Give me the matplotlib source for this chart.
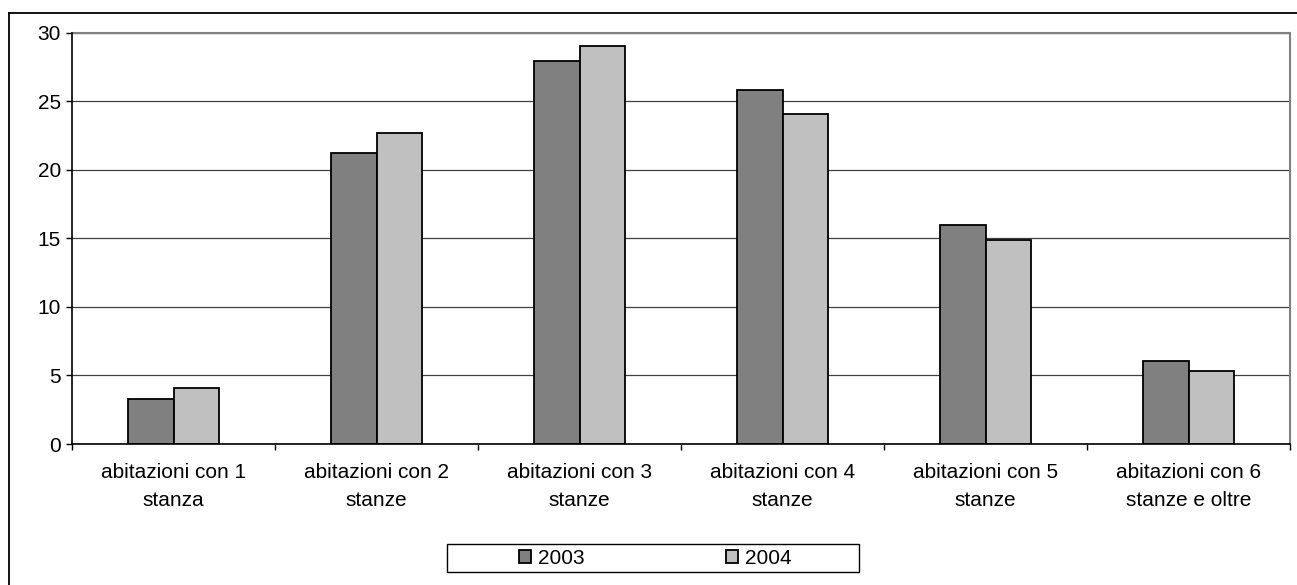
import matplotlib
matplotlib.use("Agg")
import matplotlib.pyplot as plt
from matplotlib.lines import Line2D
from matplotlib.patches import Rectangle
import numpy as np

CATEGORIES = [
    "abitazioni con 1\nstanza",
    "abitazioni con 2\nstanze",
    "abitazioni con 3\nstanze",
    "abitazioni con 4\nstanze",
    "abitazioni con 5\nstanze",
    "abitazioni con 6\nstanze e oltre",
]
VALUES_2003 = [3.25, 21.2, 27.9, 25.8, 16.0, 6.05]
VALUES_2004 = [4.05, 22.7, 29.0, 24.1, 14.9, 5.3]
SERIES = ["2003", "2004"]

plt.rcParams["font.family"] = ["Liberation Sans", "DejaVu Sans"]
FS = 15

W, H = 1297, 585
fig = plt.figure(figsize=(W / 100, H / 100), dpi=100)
ax = fig.add_axes([72 / W, 1 - 444 / H, (1290 - 72) / W, (444 - 32.7) / H])

x = np.arange(len(CATEGORIES))
w = 0.225
ax.bar(x - w / 2, VALUES_2003, w, color="#808080", edgecolor="black",
       linewidth=1.3, label=SERIES[0], zorder=3)
ax.bar(x + w / 2, VALUES_2004, w, color="#c0c0c0", edgecolor="black",
       linewidth=1.3, label=SERIES[1], zorder=3)

ax.set_xlim(-0.5, len(CATEGORIES) - 0.5)
ax.set_ylim(0, 30)
ax.set_yticks(range(0, 31, 5))
ax.tick_params(axis="y", labelsize=FS, length=4, width=1, direction="out", pad=4)
ax.grid(axis="y", color="#404040", linewidth=0.9, zorder=0)

ax.set_xticks(x)
ax.set_xticklabels(CATEGORIES, fontsize=FS, linespacing=1.6)
ax.tick_params(axis="x", length=0, pad=14)
ax.set_xticks(np.arange(len(CATEGORIES) + 1) - 0.5, minor=True)
ax.tick_params(axis="x", which="minor", length=4, width=1, direction="out")

for side in ("top", "right"):
    ax.spines[side].set_color("#808080")
    ax.spines[side].set_linewidth(1.5)
for side in ("left", "bottom"):
    ax.spines[side].set_color("black")
    ax.spines[side].set_linewidth(1.2)
    ax.spines[side].set_zorder(4)

# legend frame drawn separately (Excel-style wide box)
fig.add_artist(Rectangle((447 / W, 1 - 572 / H), (859 - 447) / W, 28 / H,
                         transform=fig.transFigure, facecolor="white",
                         edgecolor="black", linewidth=1.0))
leg = fig.legend(loc="center", bbox_to_anchor=(655 / W, 1 - 558 / H), ncol=2,
                 fontsize=FS, frameon=False,
                 handlelength=0.6, handleheight=0.6, handletextpad=0.3,
                 columnspacing=6.8, borderpad=0.0)
for p in leg.get_patches():
    p.set_linewidth(1.3)

# outer chart frame
fig.add_artist(Line2D([9 / W, 9 / W], [0, 1 - 13 / H], transform=fig.transFigure,
                      color="black", linewidth=1.3))
fig.add_artist(Line2D([9 / W, 1], [1 - 13 / H, 1 - 13 / H], transform=fig.transFigure,
                      color="black", linewidth=1.3))

fig.savefig("out.png", dpi=100)
